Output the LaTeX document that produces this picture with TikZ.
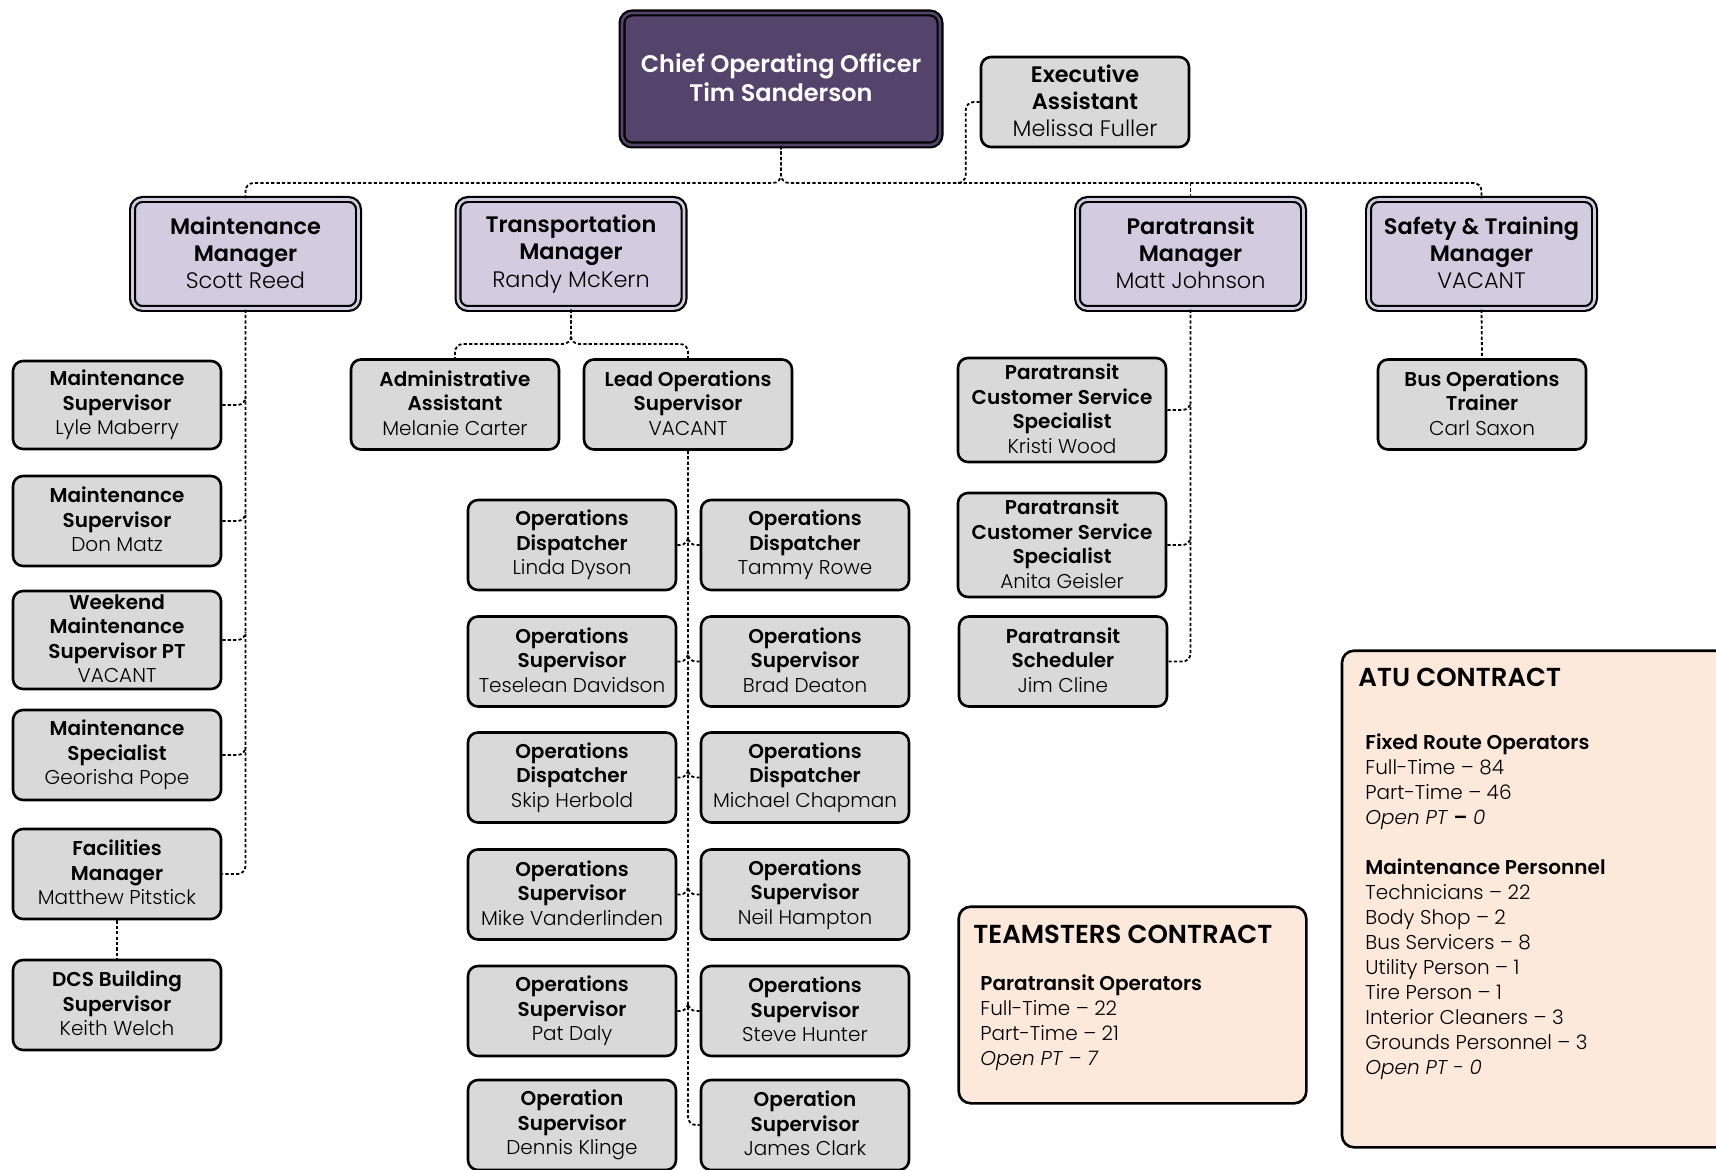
\documentclass[tikz,border=0pt]{standalone}
\usepackage{fontspec}
\setmainfont{Poppins}[UprightFont={Poppins Light}, ItalicFont={Poppins Light Italic},
  BoldFont={Poppins SemiBold}, BoldItalicFont={Poppins SemiBold Italic}]
\usepackage{xcolor}
\usepackage{tikz}

\definecolor{coofill}{HTML}{54436B}
\definecolor{mgrfill}{HTML}{D3CBE0}
\definecolor{boxfill}{HTML}{D9D9D9}
\definecolor{pactfill}{HTML}{FCE9DC}

\tikzset{
  staff/.style={draw, line width=1.3pt, rounded corners=5pt, fill=boxfill, align=center, inner sep=0pt,
    minimum width=104pt, minimum height=45pt, font=\fontsize{10}{12.3}\selectfont\bfseries,
    execute at end node={\rule[-1.5pt]{0pt}{0pt}}},
  big/.style={font=\fontsize{11.2}{13.6}\selectfont\bfseries},
  mgr/.style={staff, big, fill=mgrfill, double=mgrfill, double distance=1.3pt, line width=1.1pt,
    minimum width=113pt, minimum height=54.5pt},
  link/.style={line width=0.9pt, dash pattern=on 1.6pt off 1.1pt, rounded corners=4pt},
  pact/.style={draw, line width=1.3pt, rounded corners=6pt, fill=pactfill, inner sep=0pt},
  pacttitle/.style={font=\fontsize{13}{15}\selectfont\bfseries, anchor=west, inner sep=0pt},
  pacttext/.style={font=\fontsize{10}{12.5}\selectfont, align=left, anchor=north west, inner sep=0pt},
}

\begin{document}
\begin{tikzpicture}[x=0.5pt, y=-0.5pt]
        \clip (0,0) rectangle (1716,1170);

        % Top of the chart
        \node[mgr, fill=coofill, double=coofill, text=white, minimum width=159pt, minimum height=66pt,
          font=\fontsize{12}{14.5}\selectfont\bfseries] (coo) at (781,79) {Chief Operating Officer\\Tim Sanderson};
        \node[staff, big, minimum height=45pt] (ea) at (1085,102)
          {Executive\\Assistant\\\mdseries Melissa Fuller};

        % Managers
        \node[mgr] (mm) at (245.5,254) {Maintenance\\Manager\\\mdseries Scott Reed};
        \node[mgr] (tm) at (571,254) {Transportation\\Manager\\\mdseries Randy McKern};
        \node[mgr] (pm) at (1190.5,254) {Paratransit\\Manager\\\mdseries Matt Johnson};
        \node[mgr] (sm) at (1481.5,254) {Safety \& Training\\Manager\\\mdseries VACANT};

        % Maintenance staff
        \node[staff, minimum height=44pt] (lyle) at (117,405) {Maintenance\\Supervisor\\\mdseries Lyle Maberry};
        \node[staff] (don) at (117,521) {Maintenance\\Supervisor\\\mdseries Don Matz};
        \node[staff, minimum height=49pt] (wknd) at (117,640) {Weekend\\Maintenance\\Supervisor PT\\\mdseries VACANT};
        \node[staff] (spec) at (117,755) {Maintenance\\Specialist\\\mdseries Georisha Pope};
        \node[staff] (facil) at (117,874) {Facilities\\Manager\\\mdseries Matthew Pitstick};
        \node[staff] (dcs) at (117,1005) {DCS Building\\Supervisor\\\mdseries Keith Welch};

        % Transportation staff
        \node[staff] (admin) at (455,404.5) {Administrative\\Assistant\\\mdseries Melanie Carter};
        \node[staff] (lead) at (688,404.5) {Lead Operations\\Supervisor\\\mdseries VACANT};

        \node[staff] (o1l) at (572,545) {Operations\\Dispatcher\\\mdseries Linda Dyson};
        \node[staff] (o1r) at (805,545) {Operations\\Dispatcher\\\mdseries Tammy Rowe};
        \node[staff] (o2l) at (572,661.5) {Operations\\Supervisor\\\mdseries Teselean Davidson};
        \node[staff] (o2r) at (805,661.5) {Operations\\Supervisor\\\mdseries Brad Deaton};
        \node[staff] (o3l) at (572,777.5) {Operations\\Dispatcher\\\mdseries Skip Herbold};
        \node[staff] (o3r) at (805,777.5) {Operations\\Dispatcher\\\mdseries Michael Chapman};
        \node[staff] (o4l) at (572,894.5) {Operations\\Supervisor\\\mdseries Mike Vanderlinden};
        \node[staff] (o4r) at (805,894.5) {Operations\\Supervisor\\\mdseries Neil Hampton};
        \node[staff] (o5l) at (572,1011) {Operations\\Supervisor\\\mdseries Pat Daly};
        \node[staff] (o5r) at (805,1011) {Operations\\Supervisor\\\mdseries Steve Hunter};
        \node[staff] (o6l) at (572,1125) {Operation\\Supervisor\\\mdseries Dennis Klinge};
        \node[staff] (o6r) at (805,1125) {Operation\\Supervisor\\\mdseries James Clark};

        % Paratransit staff
        \node[staff, minimum height=52pt] (kristi) at (1062,410) {Paratransit\\Customer Service\\Specialist\\\mdseries Kristi Wood};
        \node[staff, minimum height=52pt] (anita) at (1062,545) {Paratransit\\Customer Service\\Specialist\\\mdseries Anita Geisler};
        \node[staff] (jim) at (1063,661.5) {Paratransit\\Scheduler\\\mdseries Jim Cline};

        % Safety staff
        \node[staff] (trainer) at (1482,404.5) {Bus Operations\\Trainer\\\mdseries Carl Saxon};

        % Reporting lines
        \coordinate (hub) at (781,183);
        \coordinate (eajoin) at (955,183);
        \coordinate (thub) at (571,344);
        \draw[link] (coo.south) -- (hub) -| (mm.north);
        \draw[link] (coo.south) -- (hub) -| (sm.north);
        \draw[link] (pm.north |- hub) -- (pm.north);
        \draw[link] (ea.west) -- ++(-14,0) |- (eajoin);

        \draw[link] (mm.south) |- (facil.east);
        \draw[link] (lyle.east) -| ([yshift=4pt]lyle.east -| mm.south);
        \draw[link] (don.east) -| ([yshift=4pt]don.east -| mm.south);
        \draw[link] (wknd.east) -| ([yshift=4pt]wknd.east -| mm.south);
        \draw[link] (spec.east) -| ([yshift=4pt]spec.east -| mm.south);
        \draw[link] (facil.south) -- (dcs.north);

        \draw[link] (tm.south) -- (thub) -| (admin.north);
        \draw[link] (tm.south) -- (thub) -| (lead.north);
        \draw[link] (lead.south) |- (o6r.west);
        \draw[link] (o1l.east) -| ([yshift=4pt]o1l.east -| lead.south);
        \draw[link] (o1r.west) -| ([yshift=4pt]o1r.west -| lead.south);
        \draw[link] (o2l.east) -| ([yshift=4pt]o2l.east -| lead.south);
        \draw[link] (o2r.west) -| ([yshift=4pt]o2r.west -| lead.south);
        \draw[link] (o3l.east) -| ([yshift=4pt]o3l.east -| lead.south);
        \draw[link] (o3r.west) -| ([yshift=4pt]o3r.west -| lead.south);
        \draw[link] (o4l.east) -| ([yshift=4pt]o4l.east -| lead.south);
        \draw[link] (o4r.west) -| ([yshift=4pt]o4r.west -| lead.south);
        \draw[link] (o5l.east) -| ([yshift=4pt]o5l.east -| lead.south);
        \draw[link] (o5r.west) -| ([yshift=4pt]o5r.west -| lead.south);

        \draw[link] (pm.south) |- (jim.east);
        \draw[link] (kristi.east) -| ([yshift=4pt]kristi.east -| pm.south);
        \draw[link] (anita.east) -| ([yshift=4pt]anita.east -| pm.south);

        \draw[link] (sm.south) -- (trainer.north);

        % Union contracts
        \node[pact, minimum width=173.8pt, minimum height=98.3pt] (teamsters) at (1132.5,1005) {};
        \node[pacttitle] (teamtitle) at (973,934) {TEAMSTERS CONTRACT};
        \node[pacttext] (teamtext) at (980,974) {\textbf{Paratransit Operators}\\Full-Time -- 22\\Part-Time -- 21\\\textit{Open PT -- 7}};

        \node[pact, minimum width=214pt, minimum height=248.3pt] (atu) at (1556,899) {};
        \node[pacttitle] (atutitle) at (1358,677) {ATU CONTRACT};
        \node[pacttext] (atutext) at (1365,733) {\textbf{Fixed Route Operators}\\Full-Time -- 84\\Part-Time -- 46\\
          \textit{Open PT} \textbf{--} \textit{0}\\[12.5pt]
          \textbf{Maintenance Personnel}\\Technicians -- 22\\Body Shop -- 2\\Bus Servicers -- 8\\Utility Person -- 1\\
          Tire Person -- 1\\Interior Cleaners -- 3\\Grounds Personnel -- 3\\\textit{Open PT - 0}};

    \end{tikzpicture}
\end{document}
